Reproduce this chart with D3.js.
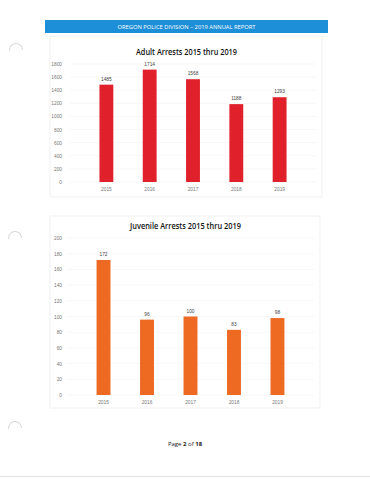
<!DOCTYPE html>
<html>
<head>
<meta charset="utf-8">
<script src="https://cdn.jsdelivr.net/npm/d3@7"></script>
<style>
  html, body { margin: 0; padding: 0; background: #ffffff; }
  svg { display: block; }
</style>
</head>
<body>
<script>
const years = ["2015", "2016", "2017", "2018", "2019"];
const adultValues = [1485, 1714, 1568, 1188, 1293];
const juvenileValues = [172, 96, 100, 83, 98];
const adultTicks = [0, 200, 400, 600, 800, 1000, 1200, 1400, 1600, 1800];
const juvenileTicks = [0, 20, 40, 60, 80, 100, 120, 140, 160, 180, 200];
const headerText = "OREGON POLICE DIVISION \u2013 2019 ANNUAL REPORT";
const adultTitle = "Adult Arrests 2015 thru 2019";
const juvenileTitle = "Juvenile Arrests 2015 thru 2019";

const W = 370, H = 480;
const svg = d3.select("body").append("svg").attr("width", W).attr("height", H);
svg.append("rect").attr("width", W).attr("height", H).attr("fill", "#ffffff");

// hole-punch marks
[[16, 50], [15, 238], [15, 428]].forEach(([cx, cy]) => {
  svg.append("path")
    .attr("d", d3.arc()({innerRadius: 6, outerRadius: 7, startAngle: -Math.PI * 0.55, endAngle: Math.PI * 0.5}))
    .attr("transform", `translate(${cx},${cy})`)
    .attr("fill", "#d8d8d8");
});

// header band
svg.append("rect").attr("x", 45).attr("y", 20).attr("width", 283).attr("height", 13).attr("fill", "#1d8fd8");
svg.append("text").attr("x", 186.5).attr("y", 29.3).attr("text-anchor", "middle")
  .attr("font-family", "'Open Sans', sans-serif").attr("font-size", 6).attr("fill", "#ffffff")
  .attr("textLength", 138).attr("lengthAdjust", "spacingAndGlyphs")
  .text(headerText);

function drawChart(cfg) {
  const g = svg.append("g");
  g.append("rect").attr("x", cfg.px).attr("y", cfg.py).attr("width", cfg.pw).attr("height", cfg.ph)
    .attr("fill", "#ffffff").attr("stroke", "#eeeeee").attr("stroke-width", 0.8);

  const y = d3.scaleLinear().domain([0, cfg.max]).range([cfg.y0, cfg.yTop]);
  const x = d3.scaleBand().domain(years).range([cfg.x0, cfg.x1]).padding(0.68);

  // gridlines
  g.append("g").selectAll("line").data(cfg.ticks).join("line")
    .attr("x1", cfg.x0).attr("x2", cfg.x1)
    .attr("y1", d => y(d)).attr("y2", d => y(d))
    .attr("stroke", "#f2f2f2").attr("stroke-width", 0.6);

  // y axis
  const ya = d3.axisLeft(y).tickValues(cfg.ticks).tickFormat(d3.format("d")).tickSize(0).tickPadding(0);
  const yg = g.append("g").attr("transform", `translate(${cfg.labelX},0)`).call(ya);
  yg.select(".domain").remove();
  yg.selectAll("text").attr("font-family", "'Liberation Sans', Arial, sans-serif")
    .attr("font-size", 4.8).attr("fill", "#777777");

  // x axis
  const xa = d3.axisBottom(x).tickSize(0).tickPadding(0);
  const xg = g.append("g").attr("transform", `translate(0,${cfg.xLabelY})`).call(xa);
  xg.select(".domain").remove();
  xg.selectAll("text").attr("font-family", "'Liberation Sans', Arial, sans-serif")
    .attr("font-size", 4.8).attr("fill", "#777777");

  // bars
  g.append("g").selectAll("rect").data(cfg.values).join("rect")
    .attr("x", (d, i) => x(years[i]))
    .attr("width", x.bandwidth())
    .attr("y", d => y(d))
    .attr("height", d => cfg.y0 - y(d))
    .attr("fill", cfg.color);

  // value labels
  g.append("g").selectAll("text").data(cfg.values).join("text")
    .attr("x", (d, i) => x(years[i]) + x.bandwidth() / 2)
    .attr("y", d => y(d) - 4)
    .attr("text-anchor", "middle")
    .attr("font-family", "'Liberation Sans', Arial, sans-serif")
    .attr("font-size", 4.8).attr("fill", "#444444")
    .text(d => d);

  // title
  g.append("text").attr("x", cfg.titleX).attr("y", cfg.titleY).attr("text-anchor", "middle")
    .attr("font-family", "'Open Sans', sans-serif").attr("font-weight", "600")
    .attr("font-size", 8.2).attr("fill", "#111111")
    .attr("textLength", cfg.titleW).attr("lengthAdjust", "spacingAndGlyphs")
    .text(cfg.title);
}

drawChart({
  px: 50, py: 36, pw: 272, ph: 161,
  x0: 70, x1: 316, y0: 182, yTop: 64, max: 1800,
  ticks: adultTicks, values: adultValues, color: "#e0202a",
  labelX: 62, xLabelY: 188,
  title: adultTitle, titleX: 186.5, titleY: 55, titleW: 101
});

drawChart({
  px: 50, py: 216, pw: 270, ph: 192,
  x0: 67, x1: 314, y0: 395, yTop: 238, max: 200,
  ticks: juvenileTicks, values: juvenileValues, color: "#ee6a22",
  labelX: 62, xLabelY: 401,
  title: juvenileTitle, titleX: 185.5, titleY: 229, titleW: 111
});

// footer
const ft = svg.append("text").attr("x", 185).attr("y", 446).attr("text-anchor", "middle")
  .attr("font-family", "'Open Sans', sans-serif").attr("font-size", 6).attr("fill", "#222222");
ft.append("tspan").text("Page ");
ft.append("tspan").attr("font-weight", "bold").text("2");
ft.append("tspan").text(" of ");
ft.append("tspan").attr("font-weight", "bold").text("18");

svg.append("line").attr("x1", 0).attr("x2", W).attr("y1", 476.5).attr("y2", 476.5)
  .attr("stroke", "#e4e4e4").attr("stroke-width", 1);
</script>
</body>
</html>
